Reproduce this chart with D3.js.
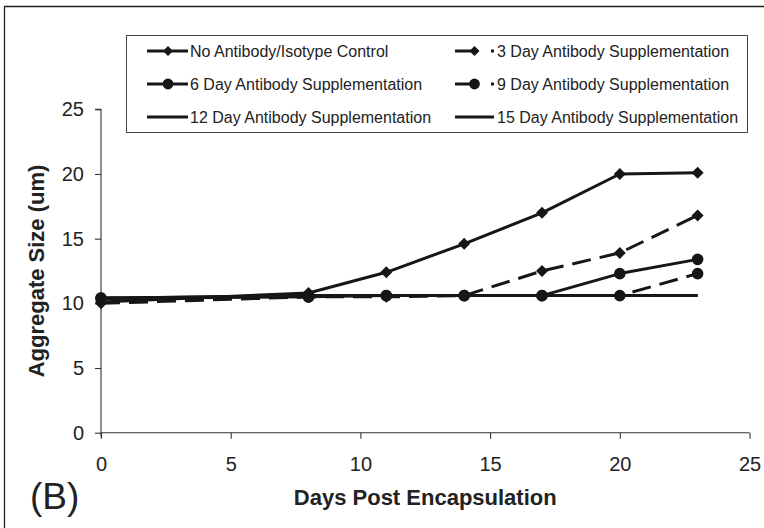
<!DOCTYPE html>
<html><head><meta charset="utf-8">
<script src="https://cdn.jsdelivr.net/npm/d3@7"></script>
<style>html,body{margin:0;padding:0;background:#fff;} svg{display:block;font-family:"Liberation Sans",Arial,Helvetica,sans-serif;}</style>
</head><body><svg id="chart" width="764" height="528"></svg>
<script>
// ---- data ----
const days = [0, 8, 11, 14, 17, 20, 23];
const noAntibody = [10.1, 10.8, 12.4, 14.6, 17.0, 20.0, 20.1];
const day3 = [10.0, 10.5, 10.5, 10.6, 12.5, 13.9, 16.8];
const day6 = [10.4, 10.5, 10.6, 10.6, 10.6, 12.3, 13.4];
const day9 = [10.4, 10.5, 10.6, 10.6, 10.6, 10.6, 12.3];
const day12 = [10.4, 10.6, 10.6, 10.6, 10.6, 10.6, 10.6];
const day15 = [10.4, 10.6, 10.6, 10.6, 10.6, 10.6, 10.6];
const seriesNames = ["No Antibody/Isotype Control", "3 Day Antibody Supplementation",
  "6 Day Antibody Supplementation", "9 Day Antibody Supplementation",
  "12 Day Antibody Supplementation", "15 Day Antibody Supplementation"];
const xTicks = [0, 5, 10, 15, 20, 25];
const yTicks = [0, 5, 10, 15, 20, 25];
const xTitle = "Days Post Encapsulation";
const yTitle = "Aggregate Size (um)";
const panelLabel = "(B)";

// ---- styles ----
const seriesValues = [noAntibody, day3, day6, day9, day12, day15];
const markerKind = ["diamond", "diamond", "circle", "circle", null, null];
const dashed = [false, true, false, true, false, false];
const ink = "#161616";

const svg = d3.select("#chart");
const x = d3.scaleLinear().domain([0, 25]).range([101, 749.5]);
const y = d3.scaleLinear().domain([0, 25]).range([432.7, 109.3]);

// outer frame
svg.append("path").attr("d", "M4.5,528 L4.5,6.5 L764,6.5")
  .attr("fill", "none").attr("stroke", "#222").attr("stroke-width", 1.3);

const diamondType = {
  draw(ctx, size) { const r = Math.sqrt(size / 2);
    ctx.moveTo(0, -r); ctx.lineTo(r, 0); ctx.lineTo(0, r); ctx.lineTo(-r, 0); ctx.closePath(); }
};
function markerPath(kind, r) {
  if (kind === "diamond") return d3.symbol(diamondType, 2 * r * r)();
  return d3.symbol(d3.symbolCircle, Math.PI * r * r)();
}

// axes
const yAxis = svg.append("g").attr("transform", `translate(${x(0)},0)`)
  .call(d3.axisLeft(y).tickValues(yTicks).tickSize(6).tickPadding(11).tickFormat(d3.format("d")));
const xAxis = svg.append("g").attr("transform", `translate(0,${y(0)})`)
  .call(d3.axisBottom(x).tickValues(xTicks).tickSize(6).tickPadding(18).tickFormat(d3.format("d")));
[yAxis, xAxis].forEach(g => {
  g.select(".domain").attr("stroke", "#333").attr("stroke-width", 1.1);
  g.selectAll(".tick line").attr("stroke", "#333").attr("stroke-width", 1.1);
  g.selectAll(".tick text").attr("fill", "#222").style("font-size", "20px")
    .style("font-family", '"Liberation Sans",Arial,sans-serif');
});
yAxis.select(".domain").attr("d", `M-6,${y(25)}H0V${y(0) + 4}`);
xAxis.select(".domain").attr("d", `M${x(0)},0H${x(25)}`);

// series
const line = d3.line().x((d, i) => x(days[i])).y(d => y(d));
seriesValues.forEach((vals, s) => {
  svg.append("path").datum(vals).attr("d", line)
    .attr("fill", "none").attr("stroke", ink).attr("stroke-width", 3)
    .attr("stroke-linejoin", "round")
    .attr("stroke-dasharray", dashed[s] ? "19,9" : null);
  if (markerKind[s]) {
    svg.append("g").selectAll("path").data(vals).join("path")
      .attr("d", markerPath(markerKind[s], markerKind[s] === "diamond" ? 6 : 5.8))
      .attr("transform", (d, i) => `translate(${x(days[i])},${y(d)})`)
      .attr("fill", ink);
  }
});

// legend
const lg = svg.append("g");
lg.append("rect").attr("x", 126.5).attr("y", 35.5).attr("width", 621).attr("height", 97)
  .attr("fill", "#fff").attr("stroke", "#444").attr("stroke-width", 1);
const colX = [[147, 188, 168, 190], [455, 494, 474.5, 497]];
const rowY = [51, 84, 117];
seriesNames.forEach((name, s) => {
  const c = colX[s % 2], ry = rowY[Math.floor(s / 2)];
  lg.append("line").attr("x1", c[0]).attr("x2", c[1]).attr("y1", ry).attr("y2", ry)
    .attr("stroke", ink).attr("stroke-width", 3)
    .attr("stroke-dasharray", dashed[s] ? "19,17" : null);
  if (markerKind[s]) {
    lg.append("path").attr("d", markerPath(markerKind[s], markerKind[s] === "diamond" ? 5 : 5.4))
      .attr("transform", `translate(${c[2]},${ry})`).attr("fill", ink);
  }
  lg.append("text").attr("x", c[3]).attr("y", ry).attr("dy", "0.36em")
    .attr("fill", "#222").style("font-size", "16px").text(name);
});

// titles
svg.append("text").attr("x", (x(0) + x(25)) / 2).attr("y", 505).attr("text-anchor", "middle")
  .style("font-size", "22px").style("font-weight", "bold").attr("fill", "#222").text(xTitle);
svg.append("text").attr("transform", `translate(44,${(y(0) + y(25)) / 2}) rotate(-90)`)
  .attr("text-anchor", "middle").style("font-size", "22px").style("font-weight", "bold")
  .attr("fill", "#222").text(yTitle);
svg.append("text").attr("x", 30).attr("y", 509).style("font-size", "37px")
  .attr("fill", "#222").text(panelLabel);
</script></body></html>
